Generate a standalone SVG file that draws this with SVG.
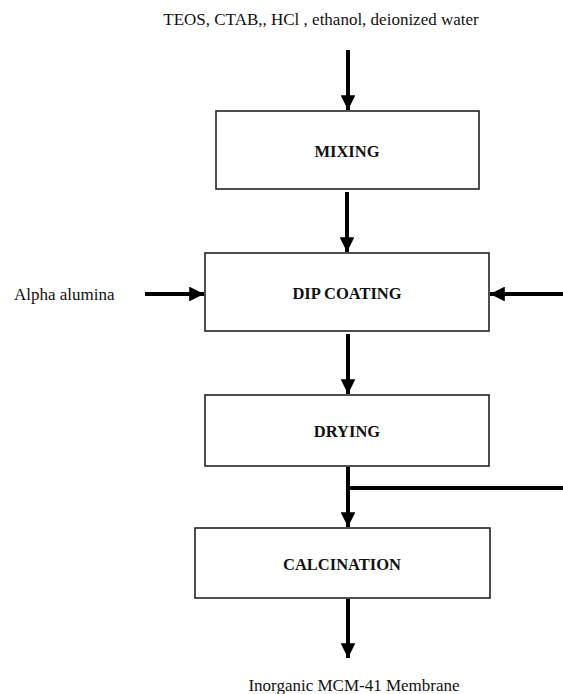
<svg xmlns="http://www.w3.org/2000/svg" width="563" height="694" viewBox="0 0 563 694">
<style>
.box{fill:#fff;stroke:#222;stroke-width:1.6}
.lbl{font-family:"Liberation Serif",serif;font-weight:bold;font-size:16.5px;fill:#111;text-anchor:middle}
.txt{font-family:"Liberation Serif",serif;font-size:17px;fill:#111}
.ln{stroke:#000;stroke-width:4;fill:none}
</style>
<defs>
<marker id="ah" viewBox="0 0 10 10" refX="10" refY="5" markerWidth="3.7" markerHeight="3.7" markerUnits="strokeWidth" orient="auto">
<path d="M0,0 L10,5 L0,10 Z" fill="#000"/>
</marker>
</defs>
<rect width="563" height="694" fill="#fff"/>
<text class="txt" x="321" y="25" text-anchor="middle">TEOS, CTAB,, HCl , ethanol, deionized water</text>
<text class="txt" x="14" y="300">Alpha alumina</text>
<text class="txt" x="354" y="691" text-anchor="middle">Inorganic MCM-41 Membrane</text>
<g id="connectors">
<line class="ln" x1="348" y1="50" x2="348" y2="110" marker-end="url(#ah)"/>
<line class="ln" x1="347" y1="192" x2="347" y2="252" marker-end="url(#ah)"/>
<line class="ln" x1="145" y1="294" x2="204" y2="294" marker-end="url(#ah)"/>
<line class="ln" x1="563" y1="294" x2="490" y2="294" marker-end="url(#ah)"/>
<line class="ln" x1="348" y1="334" x2="348" y2="394" marker-end="url(#ah)"/>
<line class="ln" x1="348" y1="467" x2="348" y2="527" marker-end="url(#ah)"/>
<line class="ln" x1="348" y1="488" x2="563" y2="488"/>
<line class="ln" x1="348" y1="599" x2="348" y2="658" marker-end="url(#ah)"/>
</g>
<g id="mixing"><rect class="box" x="216" y="111" width="263" height="78"/><text class="lbl" x="347" y="157">MIXING</text></g>
<g id="dip-coating"><rect class="box" x="205" y="253" width="284" height="78"/><text class="lbl" x="347" y="299">DIP COATING</text></g>
<g id="drying"><rect class="box" x="205" y="395" width="284" height="71"/><text class="lbl" x="347" y="437">DRYING</text></g>
<g id="calcination"><rect class="box" x="195" y="528" width="295" height="70"/><text class="lbl" x="342" y="570">CALCINATION</text></g>
</svg>
